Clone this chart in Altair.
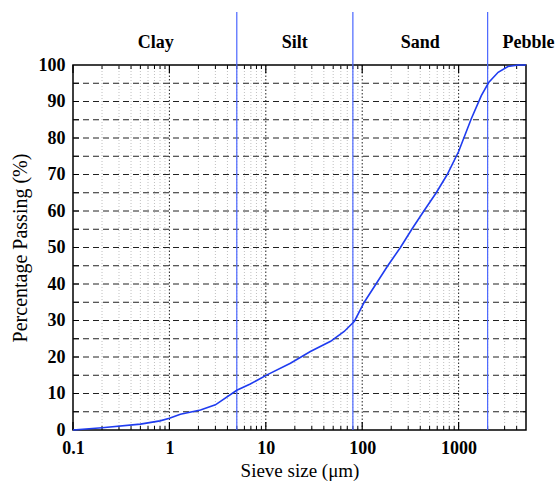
import altair as alt
import pandas as pd

# ---- data ----
sieve_um = [0.1, 0.2, 0.5, 0.8, 1.0, 1.3, 2.1, 3.0, 5.0, 6.9, 10.3, 18, 29, 47, 65, 83,
            105, 139, 184, 249, 327, 436, 586, 762, 1000, 1350, 1720, 2050, 2570, 3250, 4160, 5000]
passing = [0, 0.6, 1.6, 2.5, 3.2, 4.3, 5.5, 6.9, 10.9, 12.6, 15.1, 18.3, 21.5, 24.3, 27, 29.8,
           35, 40, 45, 50, 55, 60, 65, 70, 76.3, 85.2, 91.6, 95.2, 98, 99.6, 100, 100]

boundaries = [5, 80, 2000]
zone_names = ["Clay", "Silt", "Sand", "Pebble"]
zone_label_x = [0.72, 20, 400, 5300]

decades = [0.1, 1, 10, 100, 1000]
minor_mult = [2, 3, 4, 5, 6, 7, 8, 9]
x_max = 5000
y_ticks_major = list(range(0, 101, 10))
y_grid = list(range(5, 100, 5))
y_ticks_all = list(range(5, 100, 5))

W, H = 453, 365
FONT = "Liberation Serif"

minor_x = [d * m for d in decades for m in minor_mult if d * m < x_max]

curve = pd.DataFrame({"x": sieve_um, "y": passing})
df_minor = pd.DataFrame({"x": minor_x})
df_dec = pd.DataFrame({"x": decades[1:]})
df_dec_all = pd.DataFrame({"x": decades})
df_ygrid = pd.DataFrame({"y": y_grid})
df_yt = pd.DataFrame({"y": y_ticks_all})
df_bound = pd.DataFrame({"x": boundaries})
df_zone = pd.DataFrame({"name": zone_names, "x": zone_label_x})

xscale = alt.Scale(type="log", domain=[0.1, x_max], nice=False)
yscale = alt.Scale(domain=[0, 100], nice=False, zero=False)

xaxis = alt.Axis(values=decades, format="~g", title="Sieve size (\u03bcm)",
                 ticks=False, grid=False, domain=False, labelPadding=9,
                 labelFont=FONT, labelFontSize=18, labelFontWeight="bold", labelColor="black",
                 titleFont=FONT, titleFontSize=19, titleFontWeight="normal", titleColor="black",
                 titlePadding=4, labelFlush=False)
yaxis = alt.Axis(values=y_ticks_major, title="Percentage Passing (%)",
                 ticks=False, grid=False, domain=False, labelPadding=8,
                 labelFont=FONT, labelFontSize=18, labelFontWeight="bold", labelColor="black",
                 titleFont=FONT, titleFontSize=20, titleFontWeight="normal", titleColor="black",
                 titlePadding=8)

xenc = alt.X("x:Q", scale=xscale, axis=xaxis)
yenc = alt.Y("y:Q", scale=yscale, axis=yaxis)

minor_grid = alt.Chart(df_minor).mark_rule(color="#b0b0b0", strokeWidth=0.8, strokeDash=[1, 2]).encode(
    x=xenc, y=alt.value(0), y2=alt.value(H))
dec_grid = alt.Chart(df_dec).mark_rule(color="#222222", strokeWidth=1, strokeDash=[1.5, 2]).encode(
    x=xenc, y=alt.value(0), y2=alt.value(H))
h_grid = alt.Chart(df_ygrid).mark_rule(color="#222222", strokeWidth=1, strokeDash=[6, 4]).encode(
    y=yenc, x=alt.value(0), x2=alt.value(W))

# inward ticks
bot_major = alt.Chart(df_dec_all).mark_rule(color="black", strokeWidth=1.2).encode(
    x=xenc, y=alt.value(H), y2=alt.value(H - 8))
bot_minor = alt.Chart(df_minor).mark_rule(color="black", strokeWidth=1).encode(
    x=xenc, y=alt.value(H), y2=alt.value(H - 4))
top_major = alt.Chart(df_dec_all).mark_rule(color="black", strokeWidth=1.2).encode(
    x=xenc, y=alt.value(0), y2=alt.value(8))
top_minor = alt.Chart(df_minor).mark_rule(color="black", strokeWidth=1).encode(
    x=xenc, y=alt.value(0), y2=alt.value(4))
left_t = alt.Chart(df_yt).mark_rule(color="black", strokeWidth=1).encode(
    y=yenc, x=alt.value(0), x2=alt.value(6))
right_t = alt.Chart(df_yt).mark_rule(color="black", strokeWidth=1).encode(
    y=yenc, x=alt.value(W), x2=alt.value(W - 6))

bounds = alt.Chart(df_bound).mark_rule(color="#4a66ff", strokeWidth=1.2).encode(
    x=xenc, y=alt.value(-53), y2=alt.value(H))

line = alt.Chart(curve).mark_line(color="#1f3cf0", strokeWidth=1.6).encode(x=xenc, y=yenc)

zones = alt.Chart(df_zone).mark_text(font=FONT, fontSize=18, fontWeight="bold", color="black",
                                     baseline="alphabetic", align="center").encode(
    x=xenc, y=alt.value(-17), text="name:N")

chart = alt.layer(minor_grid, dec_grid, h_grid, bot_minor, bot_major, top_minor, top_major,
                  left_t, right_t, bounds, line, zones).properties(
    width=W, height=H,
    autosize=alt.AutoSizeParams(type="none"),
    padding={"left": 73, "top": 65, "right": 30, "bottom": 58},
    background="white",
).configure_view(stroke="black", strokeWidth=1.5)

chart.save("out.html", embed_options={"renderer": "svg", "actions": False})
